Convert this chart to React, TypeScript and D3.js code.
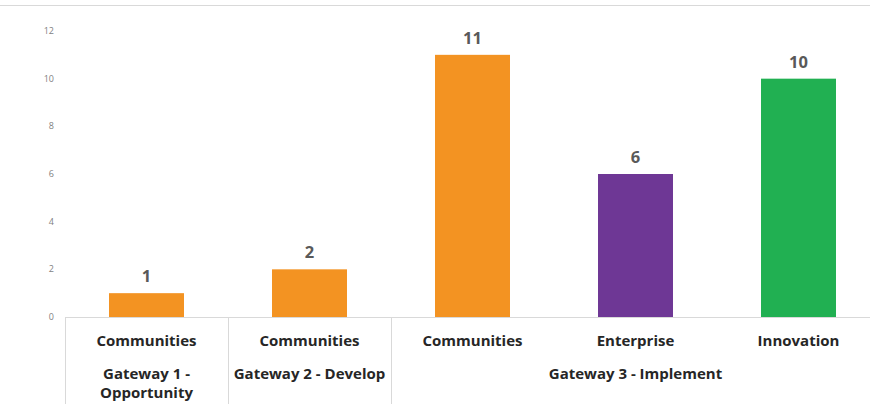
import React from "react";
import * as d3 from "d3";

const categories = ["Communities", "Communities", "Communities", "Enterprise", "Innovation"];
const groups = ["Gateway 1 - Opportunity", "Gateway 2 - Develop", "Gateway 3 - Implement"];
const groupOf = [0, 1, 2, 2, 2];
const values = [1, 2, 11, 6, 10];
const colors = ["#F39322", "#F39322", "#F39322", "#6E3795", "#21B052"];
const yTicks = [0, 2, 4, 6, 8, 10, 12];

const W = 870, H = 404;
const left = 65, right = 880, top = 31, bottom = 317;

export default function App() {
  const x = d3.scaleBand<number>().domain(d3.range(values.length)).range([left, right]).paddingInner(0).paddingOuter(0);
  const y = d3.scaleLinear().domain([0, 12]).range([bottom, top]);
  const bw = x.bandwidth();
  const barW = bw * 0.46;
  const font = "'Open Sans', sans-serif";

  const groupSpans = groups.map((g, gi) => {
    const idx = d3.range(values.length).filter((i) => groupOf[i] === gi);
    const x0 = x(idx[0])!;
    const x1 = x(idx[idx.length - 1])! + bw;
    return { name: g, x0, x1 };
  });

  const wrapLines = (name: string, width: number) => {
    const words = name.split(" ");
    const approx = (s: string) => s.length * 8.2;
    if (approx(name) <= width) return [name];
    const lines: string[] = [];
    let cur = "";
    for (const w of words) {
      const t = cur ? cur + " " + w : w;
      if (approx(t) > width && cur) {
        lines.push(cur);
        cur = w;
      } else cur = t;
    }
    if (cur) lines.push(cur);
    return lines;
  };

  return (
    <svg width={W} height={H} style={{ position: "absolute", left: 0, top: 0, background: "#fff" }}>
      <line x1={0} x2={W} y1={5.5} y2={5.5} stroke="#D9D9D9" strokeWidth={1} />
      {yTicks.map((t) => (
        <text key={t} x={54} y={y(t)} dy="0.35em" textAnchor="end" fontSize={9} fill="#7F7F7F" fontFamily={font}>
          {t}
        </text>
      ))}
      {values.map((v, i) => (
        <rect key={i} x={x(i)! + (bw - barW) / 2} y={y(v)} width={barW} height={y(0) - y(v)} fill={colors[i]} />
      ))}
      {values.map((v, i) => (
        <text key={"l" + i} x={x(i)! + bw / 2} y={y(v) - 11} textAnchor="middle" fontSize={16.5} fontWeight="bold" fill="#595959" fontFamily={font}>
          {v}
        </text>
      ))}
      <line x1={left} x2={right} y1={bottom + 0.5} y2={bottom + 0.5} stroke="#D9D9D9" />
      {groupSpans.map((g, gi) => (
        <line key={"d" + gi} x1={g.x0 + 0.5} x2={g.x0 + 0.5} y1={bottom} y2={H} stroke="#D9D9D9" />
      ))}
      <line x1={right - 0.5} x2={right - 0.5} y1={bottom} y2={H} stroke="#D9D9D9" />
      {categories.map((c, i) => (
        <text key={"c" + i} x={x(i)! + bw / 2} y={346} textAnchor="middle" fontSize={15} fontWeight="bold" fill="#262626" fontFamily={font}>
          {c}
        </text>
      ))}
      {groupSpans.map((g, gi) => {
        const lines = wrapLines(g.name, g.x1 - g.x0 - 4);
        return (
          <text key={"g" + gi} x={(g.x0 + g.x1) / 2} y={379} textAnchor="middle" fontSize={15} fontWeight="bold" fill="#262626" fontFamily={font}>
            {lines.map((l, li) => (
              <tspan key={li} x={(g.x0 + g.x1) / 2} dy={li === 0 ? 0 : 19}>
                {l}
              </tspan>
            ))}
          </text>
        );
      })}
    </svg>
  );
}
